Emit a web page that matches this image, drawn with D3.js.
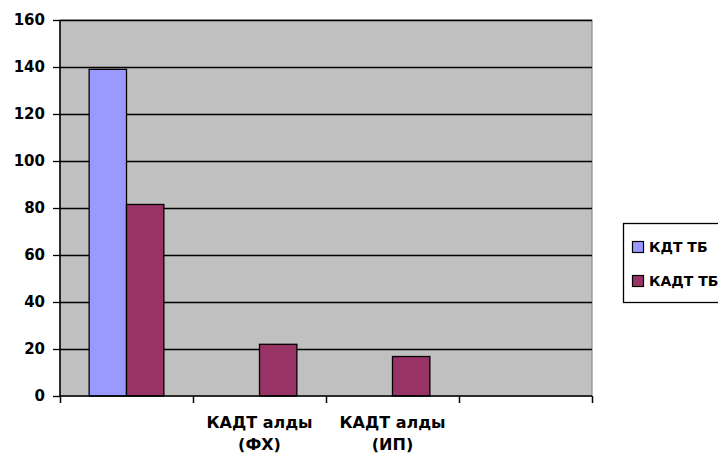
<!DOCTYPE html>
<html><head><meta charset="utf-8">
<script src="https://cdn.jsdelivr.net/npm/d3@7"></script>
<style>html,body{margin:0;padding:0;background:#fff;overflow:hidden}</style>
</head><body>
<script>
const categories = ["", "КАДТ алды (ФХ)", "КАДТ алды (ИП)", ""];
const seriesNames = ["КДТ ТБ", "КАДТ ТБ"];
const seriesColors = ["#9999FF", "#993366"];
const kdtTb = [139, null, null, null];
const kadtTb = [81.5, 22, 16.8, null];
const yTicks = [0, 20, 40, 60, 80, 100, 120, 140, 160];

const W = 718, H = 458;
const pLeft = 60, pRight = 592, pTop = 20, pBottom = 396;
const font = "'DejaVu Sans', sans-serif";

const svg = d3.select("body").append("svg").attr("width", W).attr("height", H);

const x = d3.scaleBand().domain(d3.range(categories.length)).range([pLeft, pRight]).paddingInner(0).paddingOuter(0);
const y = d3.scaleLinear().domain([0, 160]).range([pBottom, pTop]);
const inner = d3.scaleBand().domain([0, 1]).range([0, x.bandwidth()]).paddingInner(0).paddingOuter(0.78);

// plot area
svg.append("rect").attr("x", pLeft).attr("y", pTop).attr("width", pRight - pLeft).attr("height", pBottom - pTop)
  .attr("fill", "#C0C0C0").attr("stroke", "#8c8c8c").attr("stroke-width", 1.2);

// gridlines
svg.append("g").selectAll("line").data(yTicks.filter(d => d > 0)).join("line")
  .attr("x1", pLeft).attr("x2", pRight).attr("y1", d => Math.round(y(d)) + 0.5).attr("y2", d => Math.round(y(d)) + 0.5)
  .attr("stroke", "#000").attr("stroke-width", 1.3);

// bars
const series = [kdtTb, kadtTb];
series.forEach((vals, si) => {
  svg.append("g").selectAll("rect").data(vals.map((v, i) => ({v, i})).filter(d => d.v != null)).join("rect")
    .attr("x", d => x(d.i) + inner(si))
    .attr("y", d => y(d.v))
    .attr("width", inner.bandwidth())
    .attr("height", d => pBottom - y(d.v))
    .attr("fill", seriesColors[si]).attr("stroke", "#000").attr("stroke-width", 1.3);
});

// y axis
const yAxis = d3.axisLeft(y).tickValues(yTicks).tickSize(7).tickPadding(8);
const gy = svg.append("g").attr("transform", `translate(${pLeft},0)`).call(yAxis);
gy.select(".domain").attr("stroke", "#000").attr("stroke-width", 1.5).attr("d", `M0,${pTop}V${pBottom}`);
gy.selectAll(".tick line").attr("stroke", "#000").attr("stroke-width", 1.3);
gy.selectAll(".tick text").attr("font-family", font).attr("font-weight", "bold").attr("font-size", 15).attr("fill", "#000");

// x axis
const xb = d3.scaleLinear().domain([0, categories.length]).range([pLeft, pRight]);
const xAxis = d3.axisBottom(xb).tickValues(d3.range(categories.length + 1)).tickSize(7).tickFormat("");
const gx = svg.append("g").attr("transform", `translate(0,${pBottom})`).call(xAxis);
gx.select(".domain").attr("stroke", "#000").attr("stroke-width", 1.5).attr("d", `M${pLeft},0H${pRight}`);
gx.selectAll(".tick line").attr("stroke", "#000").attr("stroke-width", 1.5);

// category labels
const lab = svg.append("g");
categories.forEach((c, i) => {
  if (!c) return;
  const m = c.match(/^(.*)\s(\(.*\))$/);
  const lines = m ? [m[1], m[2]] : [c];
  const t = lab.append("text").attr("x", x(i) + x.bandwidth() / 2).attr("y", 428)
    .attr("text-anchor", "middle").attr("font-family", font).attr("font-weight", "bold").attr("font-size", 16).attr("fill", "#000");
  lines.forEach((l, k) => t.append("tspan").attr("x", x(i) + x.bandwidth() / 2).attr("dy", k === 0 ? 0 : 22).text(l));
});

// legend
const lg = svg.append("g");
lg.append("rect").attr("x", 623.5).attr("y", 223.5).attr("width", 110).attr("height", 79)
  .attr("fill", "#fff").attr("stroke", "#000").attr("stroke-width", 1.3);
seriesNames.forEach((n, i) => {
  const cy = 247 + i * 34;
  lg.append("rect").attr("x", 632.5).attr("y", cy - 5.5).attr("width", 11).attr("height", 11)
    .attr("fill", seriesColors[i]).attr("stroke", "#000").attr("stroke-width", 1.2);
  lg.append("text").attr("x", 649).attr("y", cy).attr("dy", "0.36em")
    .attr("font-family", font).attr("font-weight", "bold").attr("font-size", 14).attr("fill", "#000").text(n);
});
</script>
</body></html>
